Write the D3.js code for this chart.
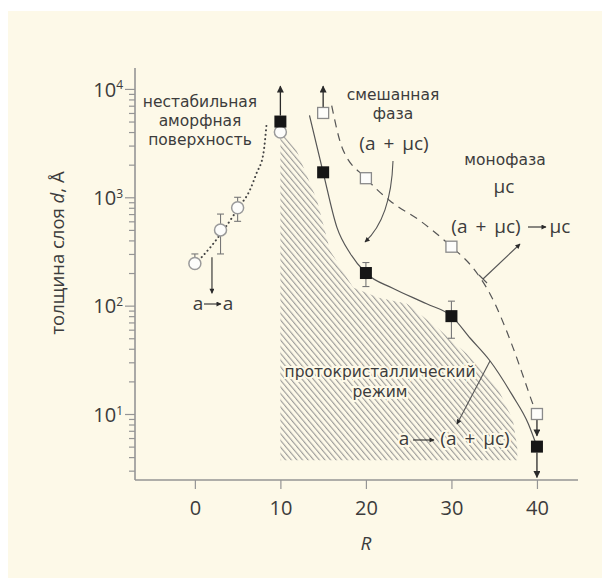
<!DOCTYPE html>
<html>
<head>
<meta charset="utf-8">
<script src="https://cdn.jsdelivr.net/npm/d3@7"></script>
<style>
  body { margin: 0; background: #ffffff; }
  svg text { font-family: "Open Sans", "Noto Sans", sans-serif; fill: #3c3c3c; }
  svg text.word { font-family: "DejaVu Sans", "Open Sans", sans-serif; }
</style>
</head>
<body>
<svg id="chart" width="602" height="579"></svg>
<script>
// ---- data -------------------------------------------------------------
// open circles: amorphous growth (a -> a)
const amorphR = [0, 3, 5, 10];
const amorphD = [245, 500, 800, 4000];
const amorphErrLo = [240, 300, 600, null];
const amorphErrHi = [300, 700, 1000, null];

// filled squares: a -> (a + μc) transition thickness
const transR = [10, 15, 20, 30, 40];
const transD = [5000, 1700, 200, 80, 5];
const transErrLo = [null, null, 150, 50, null];
const transErrHi = [null, null, 250, 110, null];

// open squares: (a + μc) -> μc transition thickness
const mixR = [15, 20, 30, 40];
const mixD = [6000, 1500, 350, 10];

// guide curves
const dottedR = [0.8, 2.0, 3.2, 5.2, 6.4, 7.2, 8.0, 8.4];
const dottedD = [280, 360, 480, 820, 1150, 1660, 2500, 4900];
const solidR = [13.4, 15, 16.6, 18.2, 20, 23.2, 27.1, 30, 32.2, 34.5, 37.1, 39.0, 40];
const solidD = [5700, 1700, 530, 300, 200, 144, 104, 80, 50, 31, 15, 8.1, 5];
const dashedR = [16.0, 17.2, 20, 22.8, 26.3, 30, 32.5, 34.5, 37.2, 38.6, 39.5, 40];
const dashedD = [7000, 2900, 1500, 930, 610, 350, 224, 129, 41, 20, 12.5, 10];

// protocrystalline region outline
const hatchR = [10, 11.9, 14.3, 15.8, 18.5, 21.5, 24.8, 28.3, 31.8, 35.4, 37.2, 37.7, 37.7, 10];
const hatchD = [4100, 2700, 930, 323, 147, 118, 104, 63, 36, 17.5, 8.7, 4.9, 3.75, 3.75];

// tick labels
const xTicks = [0, 10, 20, 30, 40];
const yMajor = [10, 100, 1000, 10000];
const yMinor = [3, 4, 5, 6, 7, 8, 9, 20, 30, 40, 50, 60, 70, 80, 90,
  200, 300, 400, 500, 600, 700, 800, 900, 2000, 3000, 4000, 5000, 6000, 7000, 8000, 9000];

// ---- setup ------------------------------------------------------------
const svg = d3.select("#chart");
const ink = "#3c3c3c", lineCol = "#555555", axisCol = "#959595", cream = "#fdf9e8";

svg.append("rect").attr("x", 8).attr("y", 11).attr("width", 594).attr("height", 567).attr("fill", cream);

const x = d3.scaleLinear().domain([-7, 44.8]).range([135, 578]);
const y = d3.scaleLog().domain([2.46, 15600]).range([480, 68]);

const defs = svg.append("defs");
defs.append("marker").attr("id", "head").attr("viewBox", "0 0 10 10")
  .attr("refX", 9).attr("refY", 5).attr("markerWidth", 9).attr("markerHeight", 7)
  .attr("markerUnits", "userSpaceOnUse").attr("orient", "auto")
  .append("path").attr("d", "M0,0 L10,5 L0,10 z").attr("fill", "#2a2a2a");
defs.append("marker").attr("id", "headS").attr("viewBox", "0 0 10 10")
  .attr("refX", 9).attr("refY", 5).attr("markerWidth", 7).attr("markerHeight", 5)
  .attr("markerUnits", "userSpaceOnUse").attr("orient", "auto")
  .append("path").attr("d", "M0,0 L10,5 L0,10 z").attr("fill", "#2a2a2a");

const pat = defs.append("pattern").attr("id", "hatch").attr("patternUnits", "userSpaceOnUse")
  .attr("width", 4.3).attr("height", 10).attr("patternTransform", "rotate(-40)");
pat.append("line").attr("x1", 0.6).attr("y1", 0).attr("x2", 0.6).attr("y2", 10)
  .attr("stroke", "#8c8c8c").attr("stroke-width", 0.95);

const zip = (a, b) => a.map((v, i) => [v, b[i]]);

// ---- hatched region ---------------------------------------------------
const area = d3.line().x(d => x(d[0])).y(d => y(d[1])).curve(d3.curveLinearClosed);
svg.append("path").attr("d", area(zip(hatchR, hatchD))).attr("fill", "url(#hatch)");

// ---- axes -------------------------------------------------------------
const gy = svg.append("g").attr("transform", `translate(${x.range()[0]},0)`);
gy.call(d3.axisLeft(y).tickValues(yMinor).tickSize(6).tickSizeOuter(0).tickFormat(""));
gy.call(g => g.select(".domain").remove());
const gyM = svg.append("g").attr("transform", `translate(${x.range()[0]},0)`);
gyM.call(d3.axisLeft(y).tickValues(yMajor).tickSize(10).tickSizeOuter(0).tickPadding(2));
gyM.select(".domain").attr("d", `M0,${y.range()[1]}V${y.range()[0]}`);
gyM.selectAll(".tick text").each(function (d) {
  const t = d3.select(this);
  t.text(null).attr("font-size", 20).attr("dy", "0.36em").attr("fill", ink);
  t.append("tspan").text("10");
  t.append("tspan").attr("dy", "-0.6em").attr("font-size", 12).text(Math.round(Math.log10(d)));
});
[gy, gyM].forEach(g => {
  g.selectAll("line").attr("stroke", axisCol).attr("stroke-width", 1.2);
  g.selectAll(".domain").attr("stroke", axisCol).attr("stroke-width", 1.6);
});

const gx = svg.append("g").attr("transform", `translate(0,${y.range()[0]})`);
gx.call(d3.axisBottom(x).tickValues(xTicks).tickSize(9).tickSizeOuter(0).tickPadding(12));
gx.select(".domain").attr("d", `M${x.range()[0]},0H${x.range()[1]}`).attr("stroke", axisCol).attr("stroke-width", 1.6);
gx.selectAll("line").attr("stroke", axisCol).attr("stroke-width", 1.2);
gx.selectAll("text").attr("font-size", 20).attr("fill", ink);

// axis titles
svg.append("text").attr("transform", "translate(64,253) rotate(-90)").attr("text-anchor", "middle")
  .attr("font-size", 18.5)
  .call(t => {
    t.append("tspan").text("толщина слоя ");
    t.append("tspan").attr("font-style", "italic").text("d");
    t.append("tspan").text(", Å");
  });
svg.append("text").attr("x", x(20)).attr("y", 550).attr("text-anchor", "middle")
  .attr("font-size", 19).attr("font-style", "italic").text("R");

// ---- guide curves -----------------------------------------------------
const line = d3.line().x(d => x(d[0])).y(d => y(d[1])).curve(d3.curveMonotoneX);
svg.append("path").attr("d", line(zip(dottedR, dottedD))).attr("fill", "none")
  .attr("stroke", "#444").attr("stroke-width", 2.0).attr("stroke-linecap", "round")
  .attr("stroke-dasharray", "0.1 4.3");
svg.append("path").attr("d", line(zip(solidR, solidD))).attr("fill", "none")
  .attr("stroke", lineCol).attr("stroke-width", 1.2);
svg.append("path").attr("d", line(zip(dashedR, dashedD))).attr("fill", "none")
  .attr("stroke", lineCol).attr("stroke-width", 1.2).attr("stroke-dasharray", "8 6");

// ---- error bars -------------------------------------------------------
function errorBars(R, lo, hi) {
  R.forEach((r, i) => {
    if (lo[i] == null) return;
    const g = svg.append("g").attr("stroke", "#777").attr("stroke-width", 1.1);
    g.append("line").attr("x1", x(r)).attr("x2", x(r)).attr("y1", y(lo[i])).attr("y2", y(hi[i]));
    [lo[i], hi[i]].forEach(v => g.append("line").attr("x1", x(r) - 3.5).attr("x2", x(r) + 3.5)
      .attr("y1", y(v)).attr("y2", y(v)));
  });
}
errorBars(amorphR, amorphErrLo, amorphErrHi);
errorBars(transR, transErrLo, transErrHi);

// ---- limit arrows -----------------------------------------------------
function vArrow(r, from, to, off) {
  svg.append("line").attr("x1", x(r)).attr("x2", x(r))
    .attr("y1", y(from) + off).attr("y2", y(to))
    .attr("stroke", "#2a2a2a").attr("stroke-width", 1.3).attr("marker-end", "url(#head)");
}
vArrow(transR[0], transD[0], 10600, -6);
vArrow(mixR[0], mixD[0], 10600, -6);
vArrow(transR[4], transD[4], 2.6, 6);
vArrow(mixR[3], mixD[3], 6.3, 6);
// amorphous arrow: a -> a
svg.append("line").attr("x1", x(2)).attr("x2", x(2)).attr("y1", y(280)).attr("y2", y(130))
  .attr("stroke", "#2a2a2a").attr("stroke-width", 1.1).attr("marker-end", "url(#headS)");

// ---- markers ----------------------------------------------------------
svg.selectAll("circle.am").data(zip(amorphR, amorphD)).join("circle")
  .attr("cx", d => x(d[0])).attr("cy", d => y(d[1])).attr("r", 6)
  .attr("fill", "#fdfdfb").attr("stroke", "#9a9a9a").attr("stroke-width", 1.5);
const s1 = 12;
svg.selectAll("rect.tr").data(zip(transR, transD)).join("rect")
  .attr("x", d => x(d[0]) - s1 / 2).attr("y", d => y(d[1]) - s1 / 2)
  .attr("width", s1).attr("height", s1).attr("fill", "#161616");
const s2 = 11;
svg.selectAll("rect.mx").data(zip(mixR, mixD)).join("rect")
  .attr("x", d => x(d[0]) - s2 / 2).attr("y", d => y(d[1]) - s2 / 2)
  .attr("width", s2).attr("height", s2).attr("fill", "#fdfdfb")
  .attr("stroke", "#8a8a8a").attr("stroke-width", 1.3);

// ---- annotations ------------------------------------------------------
function label(lines, cx, cy, size, gap, halo) {
  const t = svg.append("text").attr("class", "word").attr("text-anchor", "middle").attr("font-size", size);
  lines.forEach((s, i) => {
    t.append("tspan").attr("x", cx).attr("y", cy + i * gap).attr("dy", "0.35em").text(s);
  });
  if (halo) t.attr("stroke", cream).attr("stroke-width", 4).attr("paint-order", "stroke");
  return t;
}
function formula(s, cx, cy, halo) {
  const t = svg.append("text").attr("x", cx).attr("y", cy).attr("dy", "0.35em")
    .attr("text-anchor", "middle").attr("font-size", 19).attr("word-spacing", 3).text(s);
  if (halo) t.attr("stroke", cream).attr("stroke-width", 4).attr("paint-order", "stroke");
}
function inlineArrow(x1, x2, yy) {
  svg.append("line").attr("x1", x1).attr("x2", x2).attr("y1", yy).attr("y2", yy)
    .attr("stroke", "#2a2a2a").attr("stroke-width", 1.1).attr("marker-end", "url(#headS)");
}

label(["нестабильная", "аморфная", "поверхность"], 200, 102, 15.5, 19);
label(["смешанная", "фаза"], 393, 95, 15.5, 19);
formula("(a + μc)", 394, 143);
label(["монофаза"], 505, 160, 15.5, 0);
formula("μc", 504, 186);
label(["протокристаллический", "режим"], 380, 372, 15.5, 20, true);

// a -> a
formula("a", 198, 303);
inlineArrow(204, 221, 304);
formula("a", 228, 303);

// (a + μc) -> μc
formula("(a + μc)", 486, 226);
inlineArrow(528, 546, 227);
formula("μc", 560, 226);

// a -> (a + μc)
formula("a", 404, 438, true);
inlineArrow(413, 434, 440);
formula("(a + μc)", 475, 438, true);

// pointer arrows
svg.append("path").attr("d", "M393,161 Q391,218 365,242").attr("fill", "none")
  .attr("stroke", "#555").attr("stroke-width", 1.1).attr("marker-end", "url(#headS)");
svg.append("line").attr("x1", 483).attr("y1", 279).attr("x2", 520).attr("y2", 244)
  .attr("stroke", "#555").attr("stroke-width", 1.1).attr("marker-end", "url(#headS)");
svg.append("line").attr("x1", 479).attr("y1", 275).attr("x2", 487).attr("y2", 283)
  .attr("stroke", "#555").attr("stroke-width", 1.1);
svg.append("line").attr("x1", 490).attr("y1", 361).attr("x2", 457).attr("y2", 424)
  .attr("stroke", "#555").attr("stroke-width", 1.1).attr("marker-end", "url(#headS)");
</script>
</body>
</html>
